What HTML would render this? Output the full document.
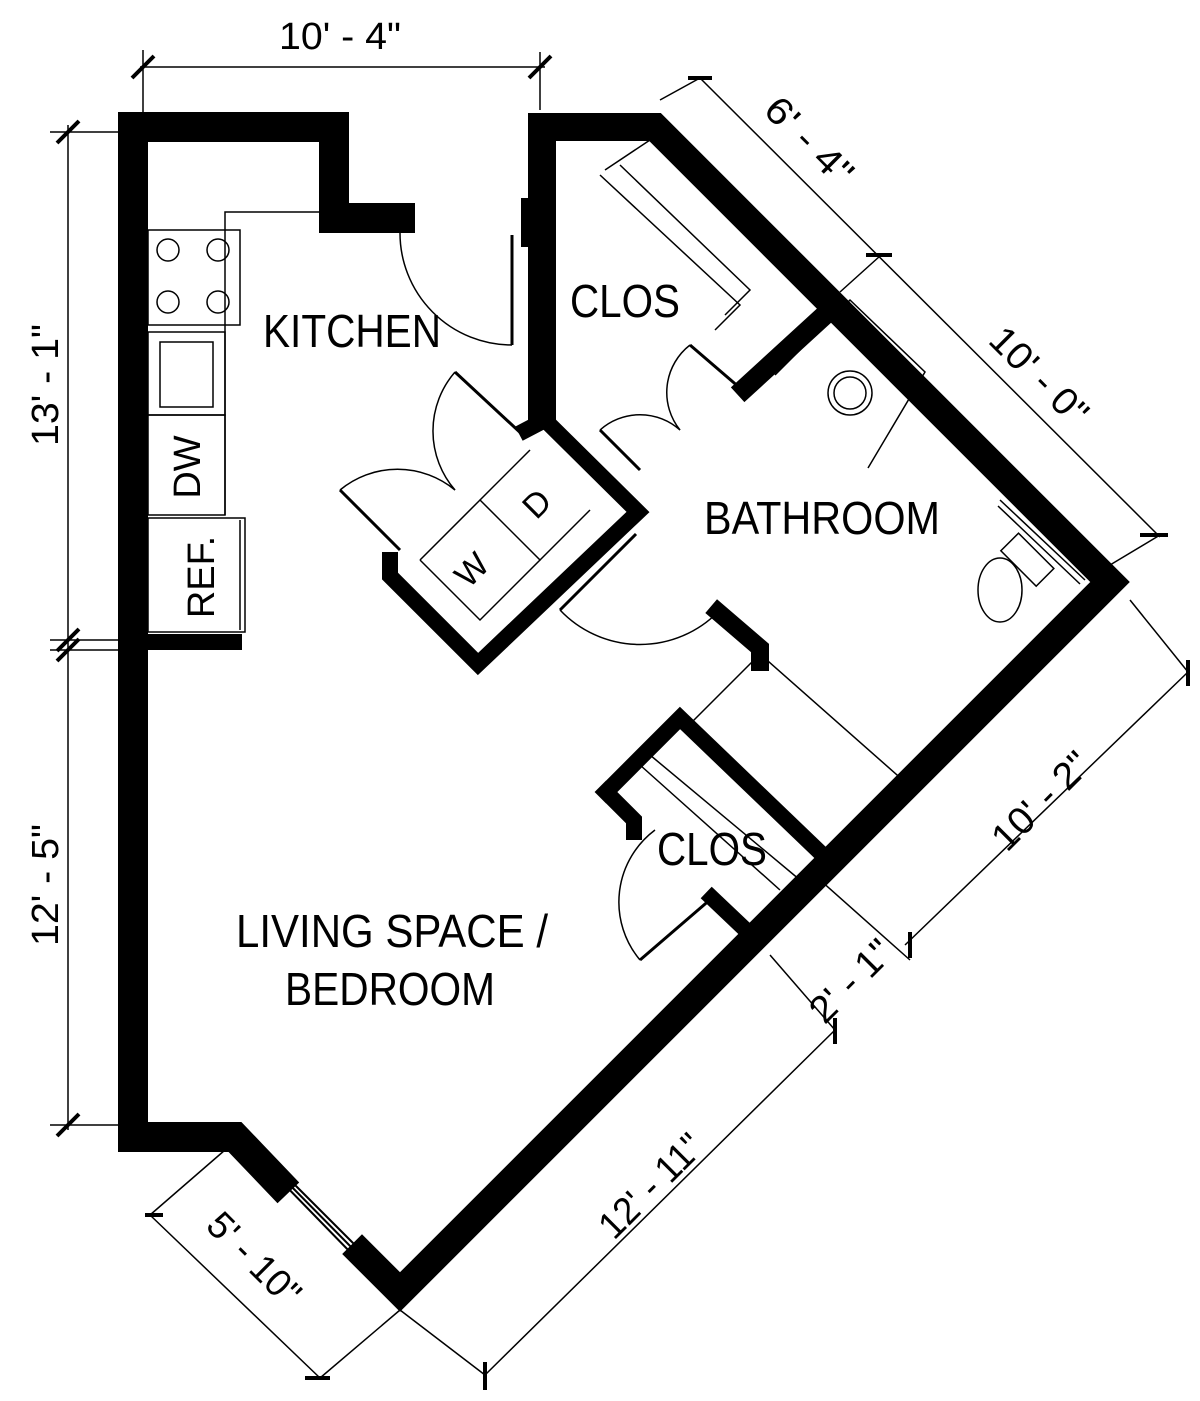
<!DOCTYPE html>
<html><head><meta charset="utf-8"><style>
html,body{margin:0;padding:0;background:#fff;}
svg{display:block;}
text{font-family:"Liberation Sans Narrow","Liberation Sans",sans-serif;fill:#000;}
</style></head><body>
<svg width="1200" height="1401" viewBox="0 0 1200 1401" xmlns="http://www.w3.org/2000/svg">
<g fill="none" stroke="#000" stroke-linejoin="miter" stroke-linecap="square">
<polyline stroke-width="30" points="400,218 334,218 334,127 133,127 133,1137 235,1137 278,1182"/>
<polyline stroke-width="28" points="542,412 542,127 655,127 1110,582 400,1292 362,1254"/>
<line stroke-width="16" x1="148" y1="642" x2="234" y2="642"/>
<polyline stroke-width="16" points="526,430 545,420 638,512 478,664 390,576 390,560"/>
<line stroke-width="14" x1="528" y1="205" x2="528" y2="240"/>
<line stroke-width="20" x1="745" y1="388" x2="828" y2="312"/>
<polyline stroke-width="18" points="718,612 760,648 760,662"/>
<polyline stroke-width="16" points="606,792 680,718 830,862"/>
<polyline stroke-width="16" points="606,792 634,820 634,832"/>
<polyline stroke-width="16" points="712,898 752,936"/>
</g>
<g stroke="#000" stroke-width="2">
<line x1="280" y1="1180" x2="354" y2="1256"/><line x1="286" y1="1176" x2="360" y2="1250"/><line x1="283" y1="1178" x2="357" y2="1253"/>
</g>
<g fill="none" stroke="#000" stroke-width="1.5">
<polyline points="320,212 225,212 225,515"/>
<rect x="148" y="230" width="92" height="95"/>
<circle cx="168" cy="250" r="11"/><circle cx="218" cy="250" r="11"/>
<circle cx="168" cy="302" r="11"/><circle cx="218" cy="302" r="11"/>
<rect x="148" y="332" width="77" height="83"/><rect x="160" y="342" width="53" height="65"/>
<rect x="148" y="415" width="77" height="100"/>
<rect x="148" y="518" width="97" height="114"/><line x1="240" y1="520" x2="240" y2="630"/>
<line x1="512" y1="235" x2="512" y2="345" stroke-width="3"/>
<path d="M400,232 A112,112 0 0 0 512,345"/>
<line x1="455" y1="372" x2="525" y2="437" stroke-width="3"/>
<line x1="340" y1="490" x2="400" y2="550" stroke-width="3"/>
<path d="M455,372 A90,90 0 0 0 455,490"/>
<path d="M455,490 A90,90 0 0 0 340,490"/>
<polyline points="420,560 480,500 540,560 480,620 420,560"/>
<line x1="480" y1="500" x2="530" y2="450"/><line x1="540" y1="560" x2="590" y2="510"/>
<polyline points="605,170 650,140"/>
<polyline points="600,175 740,305 715,330"/>
<polyline points="620,165 750,290 725,315"/>
<line x1="690" y1="345" x2="740" y2="388" stroke-width="3"/>
<line x1="600" y1="430" x2="640" y2="470" stroke-width="3"/>
<path d="M690,345 A60,60 0 0 0 680,430"/>
<path d="M680,430 A60,60 0 0 0 600,430"/>
<line x1="560" y1="610" x2="636" y2="534" stroke-width="3"/>
<path d="M560,610 A110,110 0 0 0 718,612"/>
<polyline points="775,375 850,300 925,372 868,468"/>
<circle cx="850" cy="393" r="22"/><circle cx="850" cy="393" r="16"/>
<ellipse cx="1000" cy="590" rx="22" ry="32"/>
<rect x="1015" y="535" width="25" height="50" transform="rotate(-45 1027 560)"/>
<line x1="1000" y1="500" x2="1085" y2="580"/><line x1="998" y1="506" x2="1080" y2="584"/>
<line x1="975" y1="705" x2="1065" y2="615"/><line x1="980" y1="710" x2="1070" y2="620"/>
<polyline points="692,722 760,654 905,782"/>
<polyline points="640,765 780,890"/><polyline points="650,755 800,880"/>
<line x1="640" y1="960" x2="712" y2="898" stroke-width="3"/>
<path d="M640,960 A90,90 0 0 1 655,830"/>
<line x1="140" y1="67" x2="545" y2="67"/>
<line x1="143" y1="50" x2="143" y2="112"/><line x1="540" y1="52" x2="540" y2="110"/>
<line x1="68" y1="125" x2="68" y2="1130"/>
<line x1="50" y1="132" x2="118" y2="132"/><line x1="50" y1="640" x2="118" y2="640"/><line x1="50" y1="650" x2="118" y2="650"/><line x1="50" y1="1125" x2="118" y2="1125"/>
<line x1="700" y1="78" x2="1160" y2="537"/>
<line x1="660" y1="100" x2="700" y2="78"/><line x1="840" y1="292" x2="880" y2="256"/><line x1="1110" y1="565" x2="1160" y2="535"/>
<line x1="1188" y1="672" x2="905" y2="945"/>
<line x1="1130" y1="600" x2="1188" y2="672"/>
<line x1="835" y1="1030" x2="485" y2="1375"/>
<line x1="770" y1="955" x2="835" y2="1030"/><line x1="820" y1="880" x2="910" y2="960"/>
<line x1="150" y1="1215" x2="320" y2="1378"/>
<line x1="150" y1="1215" x2="225" y2="1150"/><line x1="320" y1="1378" x2="400" y2="1310"/>
<line x1="400" y1="1310" x2="485" y2="1375"/>
</g>
<g stroke="#000" stroke-width="4">
<line x1="132" y1="78" x2="154" y2="56"/><line x1="529" y1="78" x2="551" y2="56"/>
<line x1="57" y1="143" x2="79" y2="121"/><line x1="57" y1="651" x2="79" y2="629"/><line x1="57" y1="661" x2="79" y2="639"/><line x1="57" y1="1136" x2="79" y2="1114"/>
<line x1="688" y1="78" x2="712" y2="78"/><line x1="866" y1="255" x2="892" y2="255"/><line x1="1140" y1="535" x2="1168" y2="535"/>
<line x1="1188" y1="660" x2="1188" y2="686"/><line x1="910" y1="932" x2="910" y2="958"/><line x1="835" y1="1018" x2="835" y2="1044"/>
<line x1="485" y1="1362" x2="485" y2="1390"/><line x1="145" y1="1215" x2="163" y2="1215"/><line x1="305" y1="1378" x2="330" y2="1378"/>
</g>
<g font-size="46">
<text x="340" y="49" text-anchor="middle" font-size="38" textLength="122" lengthAdjust="spacingAndGlyphs">10' - 4"</text>
<text transform="translate(58,385) rotate(-90)" text-anchor="middle" font-size="38" textLength="122" lengthAdjust="spacingAndGlyphs">13' - 1"</text>
<text transform="translate(58,885) rotate(-90)" text-anchor="middle" font-size="38" textLength="122" lengthAdjust="spacingAndGlyphs">12' - 5"</text>
<text transform="translate(800,150) rotate(45)" text-anchor="middle" font-size="38" textLength="108" lengthAdjust="spacingAndGlyphs">6' - 4"</text>
<text transform="translate(1030,385) rotate(45)" text-anchor="middle" font-size="38" textLength="122" lengthAdjust="spacingAndGlyphs">10' - 0"</text>
<text transform="translate(1050,810) rotate(-45)" text-anchor="middle" font-size="38" textLength="122" lengthAdjust="spacingAndGlyphs">10' - 2"</text>
<text transform="translate(860,990) rotate(-45)" text-anchor="middle" font-size="38" textLength="100" lengthAdjust="spacingAndGlyphs">2' - 1"</text>
<text transform="translate(660,1195) rotate(-45)" text-anchor="middle" font-size="38" textLength="130" lengthAdjust="spacingAndGlyphs">12' - 11"</text>
<text transform="translate(245,1268) rotate(45)" text-anchor="middle" font-size="38" textLength="115" lengthAdjust="spacingAndGlyphs">5' - 10"</text>
<text x="352" y="347" text-anchor="middle" textLength="178" lengthAdjust="spacingAndGlyphs">KITCHEN</text>
<text x="625" y="317" text-anchor="middle" textLength="110" lengthAdjust="spacingAndGlyphs">CLOS</text>
<text x="822" y="534" text-anchor="middle" textLength="236" lengthAdjust="spacingAndGlyphs">BATHROOM</text>
<text x="712" y="865" text-anchor="middle" textLength="110" lengthAdjust="spacingAndGlyphs">CLOS</text>
<text x="392" y="947" text-anchor="middle" textLength="312" lengthAdjust="spacingAndGlyphs">LIVING SPACE /</text>
<text x="390" y="1005" text-anchor="middle" textLength="210" lengthAdjust="spacingAndGlyphs">BEDROOM</text>
<text transform="translate(200,467) rotate(-90)" text-anchor="middle" font-size="38">DW</text>
<text transform="translate(214,577) rotate(-90)" text-anchor="middle" font-size="38">REF.</text>
<text transform="translate(480,578) rotate(-45)" text-anchor="middle" font-size="34">W</text>
<text transform="translate(545,512) rotate(-45)" text-anchor="middle" font-size="34">D</text>
</g>
</svg>
</body></html>
